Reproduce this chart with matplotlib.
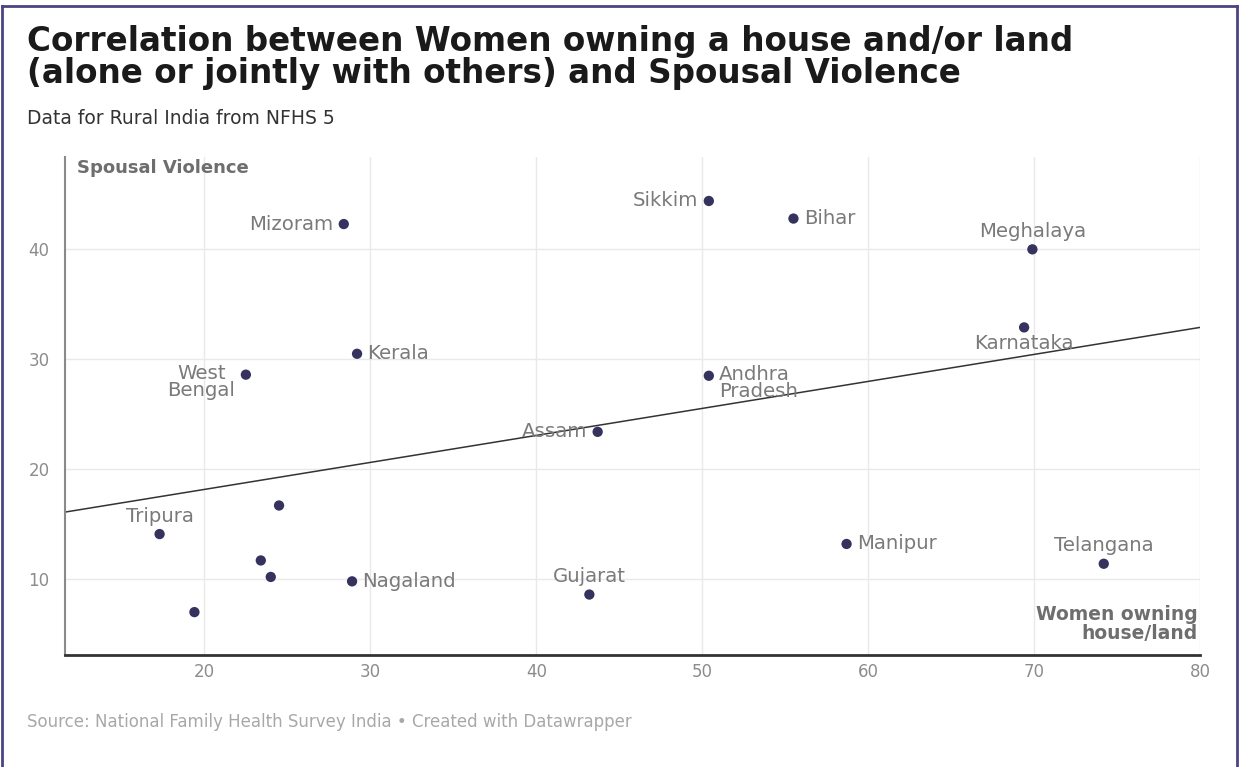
import matplotlib
matplotlib.use("Agg")
import matplotlib.pyplot as plt

plt.rcParams['font.family'] = ['DejaVu Sans']

# ---- data ----
states = ["Mizoram", "Sikkim", "Bihar", "Meghalaya", "Karnataka", "Kerala",
          "West\nBengal", "Andhra\nPradesh", "Assam", "Tripura", "", "", "",
          "Nagaland", "", "Gujarat", "Manipur", "Telangana"]
ownership = [28.4, 50.4, 55.5, 69.9, 69.4, 29.2, 22.5, 50.4, 43.7, 17.3,
             24.5, 23.4, 24.0, 28.9, 19.4, 43.2, 58.7, 74.2]
violence = [42.3, 44.4, 42.8, 40.0, 32.9, 30.5, 28.6, 28.5, 23.4, 14.1,
            16.7, 11.7, 10.2, 9.8, 7.0, 8.6, 13.2, 11.4]
label_side = ["left", "left", "right", "top", "bottom", "right", "left", "right",
              "left", "top", "", "", "", "right", "", "top", "right", "top"]
trend_intercept = 13.25
trend_slope = 0.2456
x_ticks = [20, 30, 40, 50, 60, 70, 80]
y_ticks = [10, 20, 30, 40]
x_range = (11.6, 80)
y_range = (3.1, 48.4)

title_lines = ["Correlation between Women owning a house and/or land",
               "(alone or jointly with others) and Spousal Violence"]
subtitle = "Data for Rural India from NFHS 5"
source = "Source: National Family Health Survey India \u2022 Created with Datawrapper"
y_title = "Spousal Violence"
x_title = "Women owning\nhouse/land"

# ---- figure ----
W, H = 1239, 767
fig = plt.figure(figsize=(W / 100, H / 100), dpi=100)
fig.patch.set_facecolor("white")

frame_col = "#4b4483"
fig.add_artist(plt.Line2D([2 / W, 2 / W], [0, 1 - 6 / H], color=frame_col, lw=2, transform=fig.transFigure))
fig.add_artist(plt.Line2D([2 / W, 1237 / W], [1 - 6 / H, 1 - 6 / H], color=frame_col, lw=2, transform=fig.transFigure))
fig.add_artist(plt.Line2D([1237 / W, 1237 / W], [0, 1 - 6 / H], color=frame_col, lw=2, transform=fig.transFigure))

for i, line in enumerate(title_lines):
    fig.text(27 / W, 1 - (51 + 32 * i) / H, line, fontsize=23.5, fontweight="bold",
             color="#1a1a1a", ha="left", va="baseline")
fig.text(27 / W, 1 - 124 / H, subtitle, fontsize=13.5, color="#333333", ha="left", va="baseline")
fig.text(27 / W, 1 - 727 / H, source, fontsize=12, color="#a8a8a8", ha="left", va="baseline")

ax = fig.add_axes([65 / W, 1 - 655 / H, (1200 - 65) / W, (655 - 157) / H])
ax.set_xlim(*x_range)
ax.set_ylim(*y_range)
ax.set_xticks(x_ticks)
ax.set_yticks(y_ticks)
ax.grid(True, color="#e9e9ec", lw=1)
ax.set_axisbelow(True)
for s in ["top", "right"]:
    ax.spines[s].set_visible(False)
ax.spines["left"].set_color("#8a8a8a")
ax.spines["left"].set_linewidth(1.5)
ax.spines["bottom"].set_color("#333333")
ax.spines["bottom"].set_linewidth(2)
ax.tick_params(length=0, labelsize=12, labelcolor="#8c8c8c")
ax.tick_params(axis="x", pad=6)
ax.tick_params(axis="y", pad=11)

# trend line
tx = list(x_range)
ty = [trend_intercept + trend_slope * v for v in tx]
ax.plot(tx, ty, color="#333333", lw=1.1, zorder=2)

ax.scatter(ownership, violence, s=55, color="#35335e", zorder=3, edgecolors="none")

off = {"left": (-7.5, 0, "right", "center"), "right": (7.5, 0, "left", "center"),
       "top": (0, 6, "center", "bottom"), "bottom": (0, -5, "center", "top")}
for name, x, y, side in zip(states, ownership, violence, label_side):
    if not name:
        continue
    dx, dy, ha, va = off[side]
    ma = "center"
    if "\n" in name:
        va = "top"
        dy = 7.5
        ma = "center" if side == "left" else "left"
    ax.annotate(name, (x, y), xytext=(dx, dy), textcoords="offset points",
                ha=ha, va=va, fontsize=14.2, color="#7a7a7a",
                multialignment=ma, linespacing=0.86, zorder=4)

ax.text(12 / (1200 - 65), 0.995, y_title, transform=ax.transAxes, fontsize=13,
        fontweight="bold", color="#6e6e6e", ha="left", va="top")
ax.text(0.998, 0.025, x_title, transform=ax.transAxes, fontsize=13.5,
        fontweight="bold", color="#6e6e6e", ha="right", va="bottom", linespacing=0.95)

fig.savefig("out.png", dpi=100, facecolor="white")
